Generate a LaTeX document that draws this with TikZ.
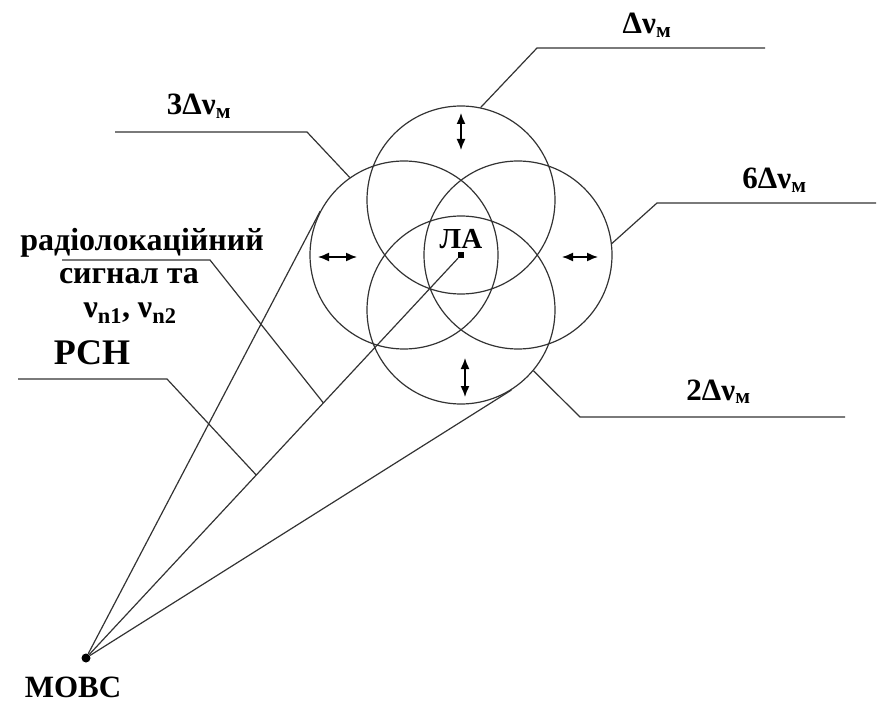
\documentclass[tikz,border=0pt]{standalone}
\usepackage{fontspec}
\setmainfont{Liberation Serif}
\usetikzlibrary{arrows.meta, calc, positioning}

\begin{document}
\begin{tikzpicture}[x=1pt, y=-1pt,
	ring/.style={circle, draw=black!80, line width=1.2pt, minimum size=188pt, inner sep=0pt},
	beam/.style={line width=1.2pt, black!80},
	leader/.style={line width=1.2pt, black!80},
	arrow/.style={{Latex[length=11pt,width=9pt]}-{Latex[length=11pt,width=9pt]}, line width=1.5pt},
	lbl/.style={font=\bfseries\fontsize{31}{33}\selectfont, inner sep=0pt, align=center},
	big/.style={font=\bfseries\fontsize{36}{38}\selectfont, inner sep=0pt}
	]
	\useasboundingbox (0,0) rectangle (878,711);
	
	% the four rings round the target
	\node[ring] (ringN) at (461,200) {};
	\node[ring] (ringS) at (461,310) {};
	\node[ring] (ringW) at (404,255) {};
	\node[ring] (ringE) at (518,255) {};
	
	\node[fill, inner sep=0pt, minimum size=6pt] (la) at (461,255) {};
	\node[lbl, font=\bfseries\fontsize{29}{30}\selectfont, above=3pt of la] (laText) {ЛА};
	
	\draw[arrow] ($(ringN)+(0,-87)$) -- ($(ringN)+(0,-50)$);
	\draw[arrow] ($(ringS)+(4,48)$) -- ($(ringS)+(4,87)$);
	\draw[arrow] ($(ringW)+(-86,2)$) -- ($(ringW)+(-47,2)$);
	\draw[arrow] ($(ringE)+(44,2)$) -- ($(ringE)+(80,2)$);
	
	% station and beams
	\node[circle, fill, inner sep=0pt, minimum size=9pt] (movs) at (86,658) {};
	\node[lbl, below=14pt of movs, xshift=-13pt] (movsText) {МОВС};
	
	\draw[beam] (movs) -- (tangent cs:node=ringW, point={(movs)}, solution=2);
	\draw[beam] (movs) -- (la);
	\draw[beam] (movs) -- (tangent cs:node=ringS, point={(movs)}, solution=1);
	
	% leaders
	\coordinate (dnKnee) at (537,48);   \coordinate (dnEnd) at (765,48);
	\coordinate (d3Knee) at (307,132);  \coordinate (d3End) at (115,132);
	\coordinate (d6Knee) at (657,203);  \coordinate (d6End) at (876,203);
	\coordinate (d2Knee) at (580,417);  \coordinate (d2End) at (845,417);
	\draw[leader] (ringN.78) -- (dnKnee) -- (dnEnd);
	\draw[leader] (ringW.125) -- (d3Knee) -- (d3End);
	\draw[leader] (ringE.7) -- (d6Knee) -- (d6End);
	\draw[leader] (ringS.-40) -- (d2Knee) -- (d2End);
	\node[lbl, anchor=base] (dn) at ($(dnKnee)!.5!(dnEnd)+(-4,-14)$) {Δν\textsubscript{м}};
	\node[lbl, anchor=base] (d3) at ($(d3Knee)!.5!(d3End)+(-12,-17)$) {3Δν\textsubscript{м}};
	\node[lbl, anchor=base] (d6) at ($(d6Knee)!.5!(d6End)+(8,-14)$) {6Δν\textsubscript{м}};
	\node[lbl, anchor=base] (d2) at ($(d2Knee)!.5!(d2End)+(6,-17)$) {2Δν\textsubscript{м}};
	
	\coordinate (radioTip) at ($(movs)!.633!(la)$);
	\coordinate (radioEnd) at (62,260);  \coordinate (radioKnee) at (210,260);
	\draw[leader] (radioEnd) -- (radioKnee) -- (radioTip);
	\node[lbl, font=\bfseries\fontsize{32}{31}\selectfont, anchor=base] (radio) at (142,251) {радіолокаційний};
	\node[lbl, font=\bfseries\fontsize{32}{31}\selectfont, anchor=base] (radioSub) at (129,284) {сигнал та};
	\node[lbl, font=\bfseries\fontsize{32}{31}\selectfont, anchor=base] (radioNu) at (130,317)
		{ν\textsubscript{n1}, ν\textsubscript{n2}};
	
	\coordinate (rsnTip) at ($(movs)!.454!(la)$);
	\coordinate (rsnEnd) at (18,379);  \coordinate (rsnKnee) at (167,379);
	\draw[leader] (rsnEnd) -- (rsnKnee) -- (rsnTip);
	\node[big, anchor=base] (rsn) at (92,364) {РСН};
\end{tikzpicture}
\end{document}
